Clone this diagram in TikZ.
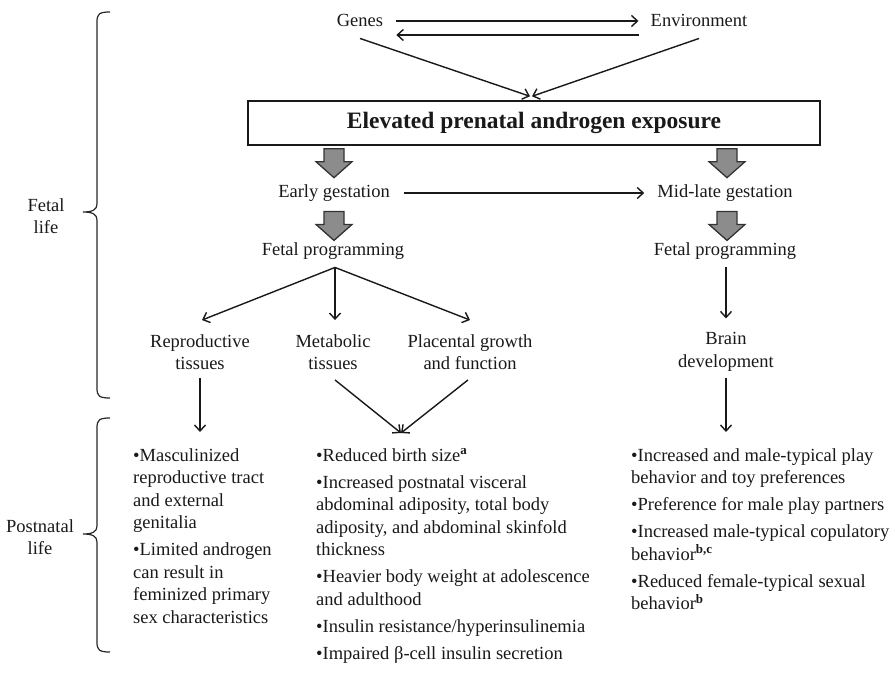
\documentclass[tikz,border=0pt]{standalone}
\usepackage{fontspec}
\setmainfont{Liberation Serif}
\usetikzlibrary{arrows.meta,calc}
\begin{document}
\begin{tikzpicture}[x=1pt,y=-1pt,
  txt/.style={inner sep=0pt, font=\fontsize{18.5}{22.5}\selectfont, text=black!90},
  one/.style={txt, text height=12.5pt, text depth=4pt},
  lbl/.style={txt, align=center},
  bul/.style={txt, align=left, anchor=north west},
  arr/.style={line width=1.4pt, draw=black!90, -{Straight Barb[length=6pt,width=11pt,line width=1.4pt]}},
  brace/.style={line width=1.2pt, draw=black!85},
  blockarrow/.pic={\filldraw[fill=black!45, draw=black!80, line width=1.3pt, line join=miter]
     (-10,0) -- (10,0) -- (10,13) -- (18,13) -- (0,29) -- (-18,13) -- (-10,13) -- cycle;}
]
\useasboundingbox (0,0) rectangle (895,674);

% top
\node[one] (genes) at (360,22) {Genes};
\node[one] (env) at (699,22) {Environment};
\node[draw=black!90, line width=1.4pt, minimum width=572pt, minimum height=44pt, inner sep=0pt,
      font=\bfseries\fontsize{23.5}{27}\selectfont, text=black!90] (box) at (534,123) {Elevated prenatal androgen exposure};
\draw[arr] ([xshift=13pt,yshift=1pt]genes.east) -- ([xshift=-12pt,yshift=1pt]env.west);
\draw[arr] ([xshift=-12pt,yshift=-13pt]env.west) -- ([xshift=13pt,yshift=-13pt]genes.east);
\draw[arr] ([yshift=-8pt]genes.south) -- ([xshift=-4pt,yshift=4pt]box.north);
\draw[arr] ([yshift=-8pt]env.south) -- ([xshift=-2pt,yshift=4pt]box.north);

% gestation
\node[one] (early) at (334,193) {Early gestation};
\node[one] (midlate) at (725,193) {Mid-late gestation};
\pic at ($(box.south -| early)+(0,3)$) {blockarrow};
\pic at ($(box.south -| midlate)+(2,3)$) {blockarrow};
\draw[arr] ([xshift=14pt]early.east) -- ([xshift=-13pt]midlate.west);

\node[one] (fpL) at (333,251) {Fetal programming};
\node[one] (fpR) at (725,251) {Fetal programming};
\pic at ($(early.south)+(0,10)$) {blockarrow};
\pic at ($(midlate.south)+(2,10)$) {blockarrow};

% tissues
\node[lbl] (repro) at (200,352) {Reproductive\\tissues};
\node[lbl] (metab) at (333,352) {Metabolic\\tissues};
\node[lbl] (plac) at (470,352) {Placental growth\\and function};
\node[lbl] (brain) at (726,352) {Brain\\development};
\coordinate (split) at ([xshift=2pt,yshift=-8pt]fpL.south);
\draw[arr] (split) -- ([xshift=2pt,yshift=14pt]repro.north);
\draw[arr] (split) -- ([xshift=2pt,yshift=14pt]metab.north);
\draw[arr] (split) -- ([yshift=14pt]plac.north);
\draw[arr] ([xshift=1pt,yshift=-8pt]fpR.south) -- ([yshift=14pt]brain.north);

% bullets
\node[bul] (bulL) at (133,448) {\textbullet Masculinized\\reproductive tract\\and external\\genitalia\\[4.5pt]\textbullet Limited androgen\\can result in\\feminized primary\\sex characteristics};
\node[bul] (bulM) at (316,448) {\textbullet Reduced birth size\textsuperscript{\textbf{a}}\\[4.5pt]\textbullet Increased postnatal visceral\\abdominal adiposity, total body\\adiposity, and abdominal skinfold\\thickness\\[4.5pt]\textbullet Heavier body weight at adolescence\\and adulthood\\[4.5pt]\textbullet Insulin resistance/hyperinsulinemia\\[4.5pt]\textbullet Impaired β-cell insulin secretion};
\node[bul] (bulR) at (631,448) {\textbullet Increased and male-typical play\\behavior and toy preferences\\[4.5pt]\textbullet Preference for male play partners\\[4.5pt]\textbullet Increased male-typical copulatory\\behavior\textsuperscript{\textbf{b,c}}\\[4.5pt]\textbullet Reduced female-typical sexual\\behavior\textsuperscript{\textbf{b}}};

\coordinate (conv) at ($(bulM.north west)+(85,-15)$);
\draw[arr] ([yshift=-8pt]repro.south) -- ($(repro |- bulL.north)+(0,-16)$);
\draw[arr] ([xshift=2pt,yshift=-10pt]metab.south) -- (conv);
\draw[arr] ([xshift=-2pt,yshift=-10pt]plac.south) -- (conv);
\draw[arr] ([yshift=-6pt]brain.south) -- ($(brain |- bulR.north)+(0,-16)$);

% braces and labels
\node[lbl] (fetal) at (46,216) {Fetal\\life};
\node[lbl] (postnatal) at (40,537) {Postnatal\\life};
\draw[brace] (110,12) .. controls (99,12) and (97,14) .. (97,22) -- (97,204)
  .. controls (97,210) and (92,212) .. (83,212) .. controls (92,212) and (97,214) .. (97,220)
  -- (97,388) .. controls (97,396) and (99,398) .. (110,398);
\draw[brace] (110,418) .. controls (99,418) and (97,420) .. (97,428) -- (97,526)
  .. controls (97,532) and (92,534) .. (83,534) .. controls (92,534) and (97,536) .. (97,542)
  -- (97,642) .. controls (97,650) and (99,652) .. (110,652);
\end{tikzpicture}
\end{document}
